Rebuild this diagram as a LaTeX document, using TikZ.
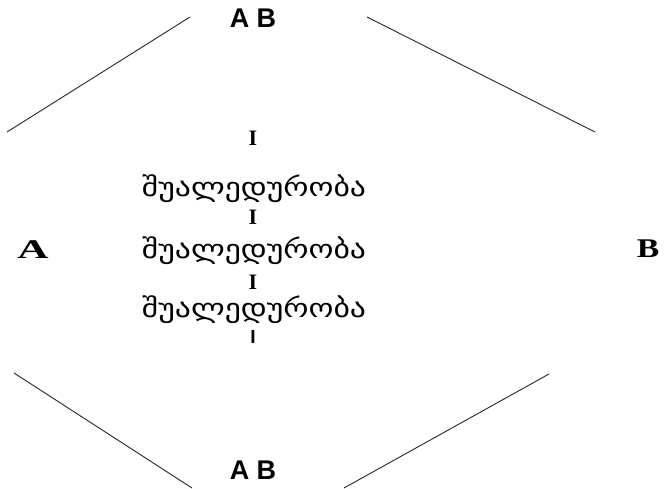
\documentclass[tikz,border=0pt]{standalone}
\usepackage{fontspec}
\newfontfamily\geo{DejaVu Sans}
\newfontfamily\lsans{Liberation Sans}
\newfontfamily\lserif{Liberation Serif}
\begin{document}
\begin{tikzpicture}[x=1pt,y=1pt,
  edge/.style={line width=0.9pt, black!85},
  geotext/.style={font=\geo\fontsize{26}{26}\selectfont, inner sep=0pt, xscale=1.22},
  romani/.style={font=\lserif\bfseries\fontsize{22}{22}\selectfont, inner sep=0pt},
  boldlabel/.style={font=\lsans\bfseries\fontsize{27}{27}\selectfont, inner sep=0pt},
  sidelabel/.style={font=\lserif\bfseries\fontsize{27}{27}\selectfont, inner sep=0pt}]
\useasboundingbox (0,0) rectangle (668,488);
% corner coordinates of the four lines
\coordinate (tl1) at (7,356);
\coordinate (tl2) at (190,471);
\coordinate (tr1) at (367,471);
\coordinate (tr2) at (595,356);
\coordinate (bl1) at (14,115);
\coordinate (bl2) at (192,0);
\coordinate (br1) at (344,0);
\coordinate (br2) at (549,114);
\draw[edge] (tl1) -- (tl2);
\draw[edge] (tr1) -- (tr2);
\draw[edge] (bl1) -- (bl2);
\draw[edge] (br1) -- (br2);
% labels
\node[boldlabel] (abtop) at (253,470) {A B};
\node[boldlabel] (abbot) at (253,18) {A B};
\node[sidelabel, xscale=1.6] (a) at (33,238) {A};
\node[sidelabel, xscale=1.25] (b) at (648,239) {B};
\node[romani] (i1) at (253,350) {I};
\node[geotext] (g1) at (254,299) {შუალედურობა};
\node[romani] (i2) at (253,271) {I};
\node[geotext] (g2) at (254,237) {შუალედურობა};
\node[romani] (i3) at (253,206) {I};
\node[geotext] (g3) at (254,178) {შუალედურობა};
\node[font=\lsans\bfseries\fontsize{19}{19}\selectfont, inner sep=0pt] (i4) at (253,151) {I};
\end{tikzpicture}
\end{document}
